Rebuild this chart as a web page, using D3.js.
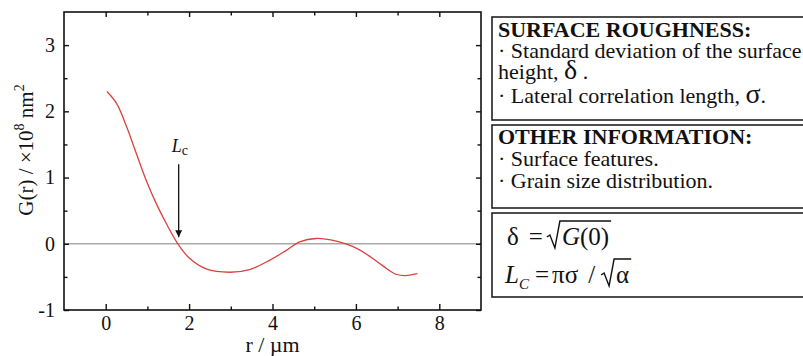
<!DOCTYPE html>
<meta charset="utf-8">
<style>
body { margin: 0; background: #fff; }
text { font-family: "Liberation Serif", "Times New Roman", serif; fill: #111; }
.axis text { font-size: 20px; }
.axis path { display: none; }
.axis line { stroke: #111; stroke-width: 1.4; }
</style>
<body>
<script src="https://cdn.jsdelivr.net/npm/d3@7"></script>
<script>

// G(r) curve
var rVals = [0.03, 0.26, 0.5, 0.73, 0.97, 1.21, 1.45, 1.73, 2.01, 2.41, 2.97, 3.45, 3.93, 4.33, 4.65, 5.05, 5.53, 5.92, 6.24, 6.64, 6.96, 7.2, 7.48];
var gVals = [2.30, 2.12, 1.77, 1.37, 0.96, 0.61, 0.31, 0.0, -0.22, -0.38, -0.43, -0.39, -0.25, -0.10, 0.03, 0.08, 0.04, -0.04, -0.15, -0.33, -0.46, -0.48, -0.45];

var xMajor = [0, 2, 4, 6, 8],
    xMinor = [1, 3, 5, 7],
    yMajor = [-1, 0, 1, 2, 3],
    yMinor = [-0.5, 0.5, 1.5, 2.5];

// L_c arrow: r position and G range
var lcR = 1.75, lcTop = 1.2, lcTip = 0.1;

var roughLines = ["SURFACE ROUGHNESS:", "Standard deviation of the surface", "height, ", "Lateral correlation length, "];
var otherLines = ["OTHER INFORMATION:", "Surface features.", "Grain size distribution."];

var width = 803, height = 356;
var pL = 64, pR = 481, pT = 12, pB = 310;

var x = d3.scaleLinear().domain([-1, 9]).range([pL, pR]);
var y = d3.scaleLinear().domain([-1, 3.5]).range([pB, pT]);

var svg = d3.select("body").append("svg")
    .attr("width", width)
    .attr("height", height);

// zero line
svg.append("line")
    .attr("x1", pL).attr("x2", pR)
    .attr("y1", y(0)).attr("y2", y(0))
    .style("stroke", "#aaa").style("stroke-width", 1.5);

// axes, ticks inward
function addAxis(axis, tx, ty, labels) {
  var g = svg.append("g").attr("class", "axis")
      .attr("transform", "translate(" + tx + "," + ty + ")")
      .call(axis);
  if (!labels) g.selectAll("text").remove();
  return g;
}
var fmt = function(d) { return d < 0 ? "-" + (-d) : d; };

addAxis(d3.axisBottom(x).tickValues(xMajor).tickSize(-6).tickSizeOuter(0).tickPadding(6).tickFormat(fmt), 0, pB, true);
addAxis(d3.axisBottom(x).tickValues(xMinor).tickSize(-3.5).tickSizeOuter(0), 0, pB, false);
addAxis(d3.axisTop(x).tickValues(xMajor).tickSize(-5).tickSizeOuter(0), 0, pT, false);
addAxis(d3.axisTop(x).tickValues(xMinor).tickSize(-3.5).tickSizeOuter(0), 0, pT, false);
addAxis(d3.axisLeft(y).tickValues(yMajor).tickSize(-5).tickSizeOuter(0).tickPadding(9).tickFormat(fmt), pL, 0, true);
addAxis(d3.axisLeft(y).tickValues(yMinor).tickSize(-3.5).tickSizeOuter(0), pL, 0, false);
addAxis(d3.axisRight(y).tickValues(yMajor).tickSize(-5).tickSizeOuter(0), pR, 0, false);
addAxis(d3.axisRight(y).tickValues(yMinor).tickSize(-3.5).tickSizeOuter(0), pR, 0, false);

// frame
svg.append("rect")
    .attr("x", pL).attr("y", pT)
    .attr("width", pR - pL).attr("height", pB - pT)
    .style("fill", "none").style("stroke", "#111").style("stroke-width", 1.6);

// curve
var pts = rVals.map(function(r, i) { return [r, gVals[i]]; });
svg.append("path")
    .datum(pts)
    .attr("d", d3.line().x(function(d) { return x(d[0]); }).y(function(d) { return y(d[1]); }).curve(d3.curveCatmullRom.alpha(0.5)))
    .style("fill", "none").style("stroke", "#d9413c").style("stroke-width", 1.3);

// L_c annotation
svg.append("defs").append("marker")
    .attr("id", "ah").attr("viewBox", "0 0 10 10")
    .attr("refX", 10).attr("refY", 5)
    .attr("markerWidth", 7).attr("markerHeight", 7)
    .attr("markerUnits", "userSpaceOnUse")
    .attr("orient", "auto")
  .append("path").attr("d", "M0,0L10,5L0,10z").style("fill", "#111");
svg.append("line")
    .attr("x1", x(lcR)).attr("x2", x(lcR))
    .attr("y1", y(lcTop)).attr("y2", y(lcTip))
    .style("stroke", "#111").style("stroke-width", 1.3)
    .attr("marker-end", "url(#ah)");
var lc = svg.append("text")
    .attr("x", x(lcR) - 7).attr("y", y(lcTop) - 12)
    .style("font-size", "18px");
lc.append("tspan").style("font-style", "italic").text("L");
lc.append("tspan").attr("dy", 3).style("font-size", "14px").text("c");

// axis titles
svg.append("text")
    .attr("x", (pL + pR) / 2).attr("y", 352)
    .attr("text-anchor", "middle").style("font-size", "22px")
    .text("r / \u00b5m");

var yt = svg.append("text")
    .attr("transform", "translate(33,150) rotate(-90)")
    .attr("text-anchor", "middle").style("font-size", "21px");
yt.append("tspan").text("G(r) / \u00d710");
yt.append("tspan").attr("dy", -9).style("font-size", "14px").text("8");
yt.append("tspan").attr("dy", 9).text(" nm");
yt.append("tspan").attr("dy", -9).style("font-size", "14px").text("2");

// info boxes
var bx = 492;
function box(y0, y1) {
  svg.append("rect")
      .attr("x", bx).attr("y", y0)
      .attr("width", 330).attr("height", y1 - y0)
      .style("fill", "none").style("stroke", "#222").style("stroke-width", 1.6);
}
box(17, 120);
box(125, 208);
box(213, 297);

var tx = 498, fs = "22px";
function textLine(txt, yy, bold, bullet) {
  var t = svg.append("text").attr("x", tx).attr("y", yy).style("font-size", fs);
  if (bold) t.style("font-weight", "bold");
  t.text((bullet ? "\u00b7 " : "") + txt);
  return t;
}
textLine(roughLines[0], 37, true, false);
textLine(roughLines[1], 58, false, true);
var h = textLine(roughLines[2], 79, false, false);
h.append("tspan").style("font-size", "28px").text("\u03b4");
h.append("tspan").text(" .");
var l = textLine(roughLines[3], 103, false, true);
l.append("tspan").style("font-size", "28px").text("\u03c3");
l.append("tspan").text(".");

textLine(otherLines[0], 144, true, false);
textLine(otherLines[1], 166, false, true);
textLine(otherLines[2], 188, false, true);

// formulas, laid out piece by piece
function formula(pieces, x0, base) {
  var cx = x0, marks = {};
  pieces.forEach(function(p) {
    if (p.rad) {
      marks.radStart = cx;
      cx += 15;
      return;
    }
    if (p.radEnd) { marks.radEnd = cx + 2; return; }
    var t = svg.append("text")
        .attr("x", cx).attr("y", base + (p.dy || 0))
        .style("font-size", p.size || "25px")
        .style("font-style", p.italic ? "italic" : "normal")
        .text(p.t);
    cx += t.node().getComputedTextLength() + (p.gap || 0);
  });
  var s = marks.radStart, tp = base - 24;
  svg.append("path")
      .attr("d", "M" + s + "," + (base - 8) + "L" + (s + 3) + "," + (base - 10) +
                 "L" + (s + 8) + "," + (base + 3) + "L" + (s + 13) + "," + tp +
                 "L" + marks.radEnd + "," + tp)
      .style("fill", "none").style("stroke", "#111").style("stroke-width", 1.4);
}

formula([
  {t: "\u03b4", gap: 10}, {t: "=", gap: 4}, {rad: true},
  {t: "G", italic: true}, {t: "(0)"}, {radEnd: true}
], 507, 245);

formula([
  {t: "L", italic: true}, {t: "C", italic: true, size: "15px", dy: 6, gap: 6},
  {t: "=", gap: 3}, {t: "\u03c0\u03c3", gap: 10}, {t: "/", gap: 6}, {rad: true},
  {t: "\u03b1"}, {radEnd: true}
], 505, 283);

</script>
</body>
